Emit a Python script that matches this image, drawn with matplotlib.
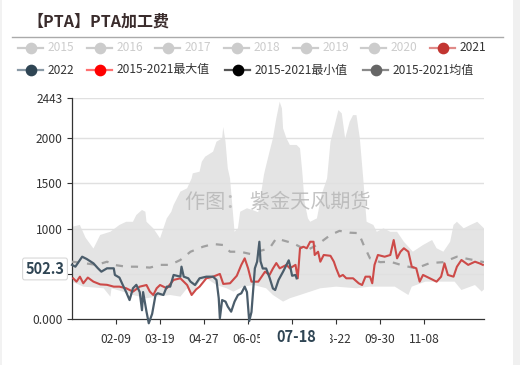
import matplotlib
matplotlib.use('Agg')
import matplotlib.pyplot as plt
import matplotlib.transforms as mtransforms
from matplotlib.lines import Line2D
from matplotlib.patches import Rectangle
import datetime as dt

plt.rcParams['font.family'] = ['Noto Sans CJK SC', 'DejaVu Sans']

# ---------------- data ----------------
_base = dt.date(2020, 1, 1)
categories = [(_base + dt.timedelta(days=i)).strftime('%m-%d') for i in range(366)]

max_dates = ['01-01','01-08','01-13','01-20','01-26','02-04','02-12','02-18','02-24','02-27',
             '03-03','03-06','03-07','03-13','03-19','03-22','03-25','03-29','03-31','04-06',
             '04-12','04-16','04-17','04-23','04-25','04-28','05-05','05-08','05-13','05-14',
             '05-16','05-18','05-20','05-21','05-24','05-27','05-29','06-04','06-10','06-14',
             '06-19','06-20','06-24','06-27','06-30','07-03','07-05','07-06','07-09','07-12',
             '07-18','07-21','07-23','07-25','07-28','07-30','08-05','08-09','08-14','08-17',
             '08-20','08-24','08-27','08-30','09-03','09-06','09-09','09-12','09-15','09-18',
             '09-24','09-27','10-03','10-09','10-15','10-21','10-29','11-07','11-15','11-19',
             '11-25','12-01','12-04','12-07','12-13','12-19','12-25','12-31']
max_values = [1020,1040,900,780,930,965,1040,1075,1075,1150,
              1205,1186,1075,1003,893,1003,1113,1186,1260,1407,
              1444,1554,1609,1627,1738,1793,1848,1958,1995,2120,
              1958,1665,1554,1407,965,1003,1186,1224,1200,1180,
              1590,1646,1848,1995,2215,2398,2325,2105,1995,1922,
              1922,1885,1627,1296,1113,1075,1113,1370,1554,1958,
              2105,2306,2270,1995,2178,2251,2251,1995,1554,1075,
              1040,965,1003,965,965,855,745,819,874,783,
              745,855,1040,1075,1003,1040,1075,1003]

min_dates = ['01-01','01-11','01-29','02-04','02-05','02-15','02-24','03-07','03-16','03-28',
             '04-06','04-12','04-16','04-23','04-29','05-08','05-17','05-23','06-01','06-10',
             '06-21','06-27','07-06','07-12','07-21','07-30','08-08','08-22','09-09','09-21',
             '09-30','10-13','10-25','10-28','11-09','11-23','12-05','12-11','12-23','12-29',
             '12-31']
min_values = [415,360,342,250,342,305,268,232,250,268,
              250,342,260,415,452,378,342,305,360,378,
              342,268,195,232,268,305,342,360,342,360,
              360,360,268,360,415,415,415,323,378,305,
              330]

mean_dates = ['01-01','01-11','01-23','02-01','02-07','02-18','02-27','03-10','03-19','03-28',
              '04-06','04-15','04-26','05-05','05-14','05-20','05-29','06-07','06-13','06-24',
              '06-30','07-06','07-15','07-27','08-05','08-17','08-25','09-03','09-11','09-15',
              '09-21','09-30','10-09','10-21','11-01','11-13','11-25','12-07','12-19','12-31']
mean_values = [635,620,600,635,600,580,580,570,600,600,
               654,745,800,830,819,745,745,720,745,783,
               893,870,838,760,819,930,975,955,950,830,
               672,630,635,590,562,620,630,690,660,630]

y2021_dates = ['01-02','01-05','01-08','01-11','01-15','01-20','01-26','02-01','02-07','02-12',
               '02-18','02-24','03-01','03-07','03-10','03-13','03-16','03-19','03-25','03-31',
               '04-06','04-12','04-16','04-20','04-23','04-29','05-05','05-11','05-14','05-20',
               '05-26','05-30','06-02','06-05','06-08','06-14','06-20','06-24','06-27','06-30',
               '07-03','07-09','07-12','07-17','07-19','07-21','07-24','07-27','07-30','08-02',
               '08-03','08-06','08-08','08-11','08-17','08-20','08-22','08-25','08-28','08-31',
               '09-06','09-11','09-14','09-17','09-21','09-23','09-25','09-28','10-04','10-09',
               '10-12','10-15','10-18','10-21','10-25','10-28','11-01','11-04','11-07','11-13',
               '11-19','11-23','11-26','11-29','12-04','12-07','12-11','12-17','12-23','12-27',
               '12-30']
y2021_values = [452,415,470,397,460,415,385,380,360,360,
                342,305,360,378,305,268,342,378,342,434,
                452,378,268,330,360,452,470,500,390,397,
                480,600,672,562,415,415,525,489,560,620,
                562,600,562,600,452,783,800,783,855,855,
                709,745,635,709,700,635,562,470,489,452,
                452,397,378,470,470,397,600,709,690,709,
                874,672,745,783,745,580,562,415,489,452,
                415,470,617,489,470,580,654,600,635,617,
                600]

y2022_dates = ['01-01','01-04','01-10','01-14','01-20','01-24','01-27','02-01','02-07','02-08',
               '02-12','02-15','02-18','02-21','02-24','02-27','03-01','03-03','03-04','03-07',
               '03-09','03-12','03-15','03-17','03-22','03-25','03-28','03-31','04-06','04-07',
               '04-09','04-13','04-15','04-19','04-23','04-29','05-05','05-08','05-10','05-11',
               '05-13','05-16','05-18','05-21','05-24','05-27','05-30','06-02','06-04','06-06',
               '06-08','06-11','06-13','06-15','06-16','06-18','06-21','06-24','06-27','06-29',
               '07-02','07-06','07-11','07-12','07-14','07-17','07-18']
y2022_values = [600,580,690,665,617,562,525,562,562,489,
                460,378,300,212,342,380,300,100,300,84,
                -44,60,268,287,268,360,360,489,470,580,
                470,452,415,378,452,470,470,434,232,11,
                212,195,140,84,195,268,287,360,300,-20,
                80,562,635,855,640,560,560,460,340,323,
                434,525,650,600,480,489,452]

y_ticks = [0, 500, 1000, 1500, 2000, 2443]
# the 500 label is hidden behind the y pointer label in the reference
y_tick_labels = ['0.000', '', '1000', '1500', '2000', '2443']
x_ticks = ['02-09', '03-19', '04-27', '06-05', '07-14', '08-22', '09-30', '11-08']
# the 07-14 label is hidden behind the x pointer label in the reference
x_tick_labels = ['02-09', '03-19', '04-27', '06-05', '', '08-22', '09-30', '11-08']

legend_items_row1 = ['2015', '2016', '2017', '2018', '2019', '2020', '2021']
legend_items_row2 = ['2022', '2015-2021最大值', '2015-2021最小值', '2015-2021均值']
pointer_x_label = '07-18'
pointer_y_label = '502.3'
pointer_y_value = 555
title_text = '【PTA】PTA加工费'
watermark = '作图： 紫金天风期货'

# ---------------- figure ----------------
W, H = 520, 365
fig = plt.figure(figsize=(W / 100, H / 100), dpi=100)
fig.patch.set_facecolor('white')

def fx(px):
    return px / W

def fy(py):
    return 1 - py / H

# side strips
fig.add_artist(Rectangle((fx(513), 0), fx(7), 1, transform=fig.transFigure,
                         facecolor='#f0f0f0', edgecolor='none'))
fig.add_artist(Rectangle((0, 0), fx(2), 1, transform=fig.transFigure,
                         facecolor='#f2f2f2', edgecolor='none'))

ax_h = 221.6 / H
ax = fig.add_axes([fx(72), 45.7 / H, 412 / W, ax_h])
ci = {c: i for i, c in enumerate(categories)}

def xs(dates):
    return [ci[d] for d in dates]

# band between max and min
band_x = xs(max_dates) + xs(min_dates)[::-1]
band_y = max_values + min_values[::-1]
ax.fill(band_x, band_y, color='#e4e4e4', lw=0, zorder=1)

# grid
for t in y_ticks[1:]:
    ax.axhline(t, color='#e0e0e0', lw=1.0, zorder=1.5)

ax.plot(xs(mean_dates), mean_values, color='#a0a0a0', lw=1.6,
        dashes=(3.2, 3.6), zorder=3)
ax.plot(xs(y2021_dates), y2021_values, color='#cd4a48', lw=1.5, zorder=4)
ax.plot(xs(y2022_dates), y2022_values, color='#4b5d6b', lw=1.6, zorder=5,
        clip_on=False)

ax.set_xlim(0, len(categories) - 1)
ax.set_ylim(0, 2443)

ax.set_yticks(y_ticks)
ax.set_yticklabels(y_tick_labels)
ax.set_xticks(xs(x_ticks))
ax.set_xticklabels(x_tick_labels)
ax.tick_params(axis='both', colors='#333333', labelcolor='#333333',
               labelsize=8.6, length=3.6, width=0.8)
ax.tick_params(axis='x', pad=6)
ax.tick_params(axis='y', pad=3)
for s in ['top', 'right']:
    ax.spines[s].set_visible(False)
for s in ['left', 'bottom']:
    ax.spines[s].set_color('#333333')
    ax.spines[s].set_linewidth(0.9)
ax.set_facecolor('none')

# watermark
ax.text(0.5, 0.525, watermark, transform=ax.transAxes, ha='center', va='center',
        fontsize=14.5, color='#b0b0b0', alpha=0.75, zorder=6)

# x axis pointer label (white box that hides neighbouring labels partially)
trans = mtransforms.blended_transform_factory(ax.transData, ax.transAxes)
px_per_day = 412 / (len(categories) - 1)
box_left_days = 37 / px_per_day
box_w_days = 70 / px_per_day
ax.add_patch(Rectangle((ci[pointer_x_label] - box_left_days, -0.125),
                       box_w_days, 0.085, transform=trans, facecolor='white',
                       edgecolor='none', zorder=9, clip_on=False))
ax.text(ci[pointer_x_label], -0.079, pointer_x_label, transform=trans,
        ha='center', va='center', fontsize=10.5, fontweight='bold',
        color='#2f4554', zorder=10, clip_on=False)

# y axis pointer label
trans_y = mtransforms.blended_transform_factory(fig.transFigure, ax.transData)
ax.text(fx(45), pointer_y_value, pointer_y_label, transform=trans_y,
        ha='center', va='center', fontsize=10.5, fontweight='bold',
        color='#2f4554', zorder=10, clip_on=False,
        bbox=dict(boxstyle='round,pad=0.2,rounding_size=0.15', fc='white',
                  ec='#d8d8d8', lw=0.8))

# title
fig.text(fx(27), fy(22), title_text, ha='left', va='center', fontsize=11.5,
         fontweight='bold', color='#3a2c2c')
fig.add_artist(Line2D([fx(12), fx(503)], [fy(37), fy(37)], transform=fig.transFigure,
                      color='#aaaaaa', lw=1.0))

# legend
def legend_item(x, y, label, line_color, marker_color, text_color):
    fig.add_artist(Line2D([fx(x), fx(x + 25)], [fy(y), fy(y)], transform=fig.transFigure,
                          color=line_color, lw=1.6))
    fig.add_artist(Line2D([fx(x + 12.5)], [fy(y)], transform=fig.transFigure,
                          marker='o', markersize=7.4, markerfacecolor=marker_color,
                          markeredgecolor=marker_color, lw=0))
    fig.text(fx(x + 30), fy(y), label, ha='left', va='center', fontsize=8.6,
             color=text_color)

row1_x = [18, 87, 155, 224, 293, 361, 430]
for x, lab in zip(row1_x, legend_items_row1):
    if lab == '2021':
        legend_item(x, 47.7, lab, '#e08a88', '#c23531', '#333333')
    else:
        legend_item(x, 47.7, lab, '#cccccc', '#cccccc', '#cccccc')

row2_x = [18, 87, 225, 363]
row2_styles = [('#8a9aa6', '#2f4554'), ('#ff7070', '#ff0000'),
               ('#555555', '#000000'), ('#8a8a8a', '#666666')]
for x, lab, (lc, mc) in zip(row2_x, legend_items_row2, row2_styles):
    legend_item(x, 70, lab, lc, mc, '#333333')

fig.savefig('out.png', dpi=100, facecolor='white')
